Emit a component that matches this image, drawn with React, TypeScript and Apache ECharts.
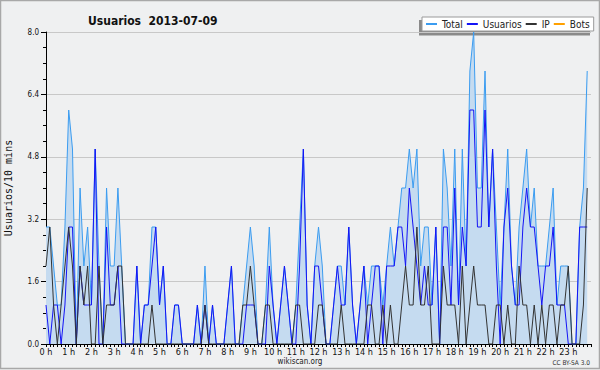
import React, { useEffect, useRef } from "react";
import * as echarts from "echarts";

const seriesNames = ["Total", "Usuarios", "IP", "Bots"];

const total = [
  3, 3, 2, 1, 1, 3, 6, 5, 0, 4, 2, 3, 1, 5, 2, 0, 4, 2, 2, 4,
  2, 0, 0, 0, 2, 0, 1, 1, 3, 3, 1, 2, 0, 0, 1, 1, 0, 0, 0, 0,
  1, 0, 2, 0, 1, 0, 0, 0, 1, 2, 0, 0, 1, 2, 3, 2, 0, 0, 1, 3,
  1, 0, 1, 2, 1, 0, 1, 3, 5, 1, 0, 2, 3, 2, 0, 0, 1, 2, 2, 1,
  3, 1, 0, 1, 2, 1, 2, 2, 2, 1, 2, 3, 2, 3, 4, 4, 5, 4, 5, 2,
  3, 3, 1, 3, 0, 5, 4, 2, 5, 1, 5, 2, 7, 8, 4, 4, 7, 3, 5, 3,
  1, 3, 5, 2, 1, 3, 4, 5, 3, 4, 2, 2, 2, 3, 4, 1, 2, 2, 2, 0,
  0, 3, 4, 7,
];

const usuarios = [
  1, 0, 1, 1, 0, 1, 3, 3, 0, 2, 1, 1, 1, 5, 0, 0, 3, 1, 1, 2,
  0, 0, 0, 0, 2, 0, 1, 1, 2, 3, 1, 2, 0, 0, 1, 1, 0, 0, 0, 0,
  1, 0, 1, 0, 1, 0, 0, 0, 1, 2, 0, 0, 0, 1, 1, 1, 0, 0, 0, 2,
  1, 0, 1, 2, 1, 0, 0, 2, 5, 1, 0, 2, 2, 1, 0, 0, 1, 2, 1, 1,
  3, 1, 0, 1, 2, 0, 1, 2, 2, 0, 2, 2, 2, 3, 3, 2, 4, 3, 2, 1,
  2, 1, 1, 3, 0, 3, 3, 1, 4, 1, 3, 2, 6, 6, 3, 3, 6, 3, 5, 2,
  0, 3, 4, 2, 1, 1, 3, 4, 3, 3, 2, 1, 2, 2, 3, 1, 1, 1, 0, 0,
  0, 3, 3, 3,
];

const ip = [
  2, 3, 1, 0, 1, 2, 3, 2, 0, 2, 1, 2, 0, 0, 2, 0, 1, 1, 1, 2,
  2, 0, 0, 0, 0, 0, 0, 0, 1, 0, 0, 0, 0, 0, 0, 0, 0, 0, 0, 0,
  0, 0, 1, 0, 0, 0, 0, 0, 0, 0, 0, 0, 1, 1, 2, 1, 0, 0, 1, 1,
  0, 0, 0, 0, 0, 0, 1, 1, 0, 0, 0, 0, 1, 1, 0, 0, 0, 0, 1, 0,
  0, 0, 0, 0, 0, 1, 1, 0, 0, 1, 0, 1, 0, 0, 1, 2, 1, 1, 3, 1,
  1, 2, 0, 0, 0, 2, 1, 1, 1, 0, 2, 0, 1, 2, 1, 1, 1, 0, 0, 1,
  1, 0, 1, 0, 0, 2, 1, 1, 0, 1, 0, 1, 0, 1, 1, 0, 1, 1, 2, 0,
  0, 0, 1, 4,
];

const bots: number[] = [];

const hourLabels = [
  "0 h", "1 h", "2 h", "3 h", "4 h", "5 h", "6 h", "7 h", "8 h", "9 h", "10 h", "11 h",
  "12 h", "13 h", "14 h", "15 h", "16 h", "17 h", "18 h", "19 h", "20 h", "21 h", "22 h", "23 h",
];

const colors = ["#3b9cf0", "#1414f5", "#333333", "#ffa000"];
const F = "'DejaVu Sans Condensed', 'DejaVu Sans', sans-serif";

export default function App() {
  const ref = useRef<HTMLDivElement>(null);
  useEffect(() => {
    document.body.style.margin = "0";
    const chart = echarts.init(ref.current!, null, { renderer: "svg" });
    const pts = (arr: number[]) => arr.map((v, i) => [i, v]);
    chart.setOption({
      animation: false,
      backgroundColor: "#eff0f1",
      color: colors,
      textStyle: { fontFamily: F },
      title: {
        text: "Usuarios  2013-07-09",
        left: 83,
        top: 10,
        textStyle: { fontSize: 12, fontWeight: "bold", color: "#111", fontFamily: F },
      },
      legend: {
        left: 422,
        top: 17,
        padding: [2, 4, 2, 4],
        itemGap: 4,
        itemWidth: 11,
        itemHeight: 2,
        icon: "rect",
        backgroundColor: "#ffffff",
        borderColor: "#9a9a9a",
        borderWidth: 1,
        borderRadius: 0,
        textStyle: { fontSize: 10, color: "#222", fontFamily: F },
        data: seriesNames,
      },
      grid: { left: 46, right: 9, top: 32, bottom: 26, containLabel: false, outerBoundsMode: "none" },
      xAxis: {
        type: "value",
        min: 0,
        max: 144,
        interval: 6,
        axisLine: { show: true, lineStyle: { color: "#000", width: 1 } },
        axisTick: { show: true, length: 3, lineStyle: { color: "#000" } },
        minorTick: { show: true, splitNumber: 6, length: 3, lineStyle: { color: "#000" } },
        splitLine: { show: false },
        axisLabel: {
          formatter: (v: number) => (v < 144 ? hourLabels[Math.round(v / 6)] : ""),
          fontSize: 9,
          margin: 3,
          color: "#111",
          fontFamily: F,
        },
      },
      yAxis: {
        type: "value",
        min: 0,
        max: 8,
        interval: 1.6,
        name: "Usuarios/10 mins",
        nameLocation: "middle",
        nameGap: 33,
        nameTextStyle: { fontFamily: "'DejaVu Sans Mono', monospace", fontSize: 10, color: "#111" },
        axisLine: { show: true, lineStyle: { color: "#000", width: 1 } },
        axisTick: { show: true, length: 5, lineStyle: { color: "#000" } },
        minorTick: { show: true, splitNumber: 4, length: 3, lineStyle: { color: "#000" } },
        splitLine: { show: true, lineStyle: { color: "#c8c8c8", width: 1 } },
        axisLabel: {
          formatter: (v: number) => v.toFixed(1),
          fontSize: 8,
          margin: 7,
          color: "#111",
          fontFamily: F,
        },
      },
      graphic: [
        {
          type: "rect",
          shape: { x: 0.5, y: 0.5, width: 599, height: 368 },
          style: { fill: "none", stroke: "#a8a8a8", lineWidth: 1.5 },
          silent: true,
        },
        {
          type: "rect",
          shape: { x: 419, y: 20, width: 171, height: 15.5 },
          style: { fill: "#8a8a8a" },
          silent: true,
          z: -1,
        },
        {
          type: "text",
          x: 300,
          y: 361,
          style: { text: "wikiscan.org", fill: "#222", font: `8px ${F}`, textAlign: "center", textVerticalAlign: "middle" },
          silent: true,
        },
        {
          type: "text",
          x: 590,
          y: 363,
          style: { text: "CC BY-SA 3.0", fill: "#333", font: `6.5px ${F}`, textAlign: "right", textVerticalAlign: "middle" },
          silent: true,
        },
      ],
      series: [
        {
          name: "Total",
          type: "line",
          data: pts(total),
          showSymbol: false,
          lineStyle: { width: 1, color: colors[0] },
          areaStyle: { color: "#c5dbf0", opacity: 1 },
          z: 2,
        },
        {
          name: "Usuarios",
          type: "line",
          data: pts(usuarios),
          showSymbol: false,
          lineStyle: { width: 1, color: colors[1] },
          z: 3,
        },
        {
          name: "IP",
          type: "line",
          data: pts(ip),
          showSymbol: false,
          lineStyle: { width: 1, color: colors[2] },
          z: 4,
        },
        {
          name: "Bots",
          type: "line",
          data: pts(bots),
          showSymbol: false,
          lineStyle: { width: 1, color: colors[3] },
          z: 5,
        },
      ],
    });
    return () => chart.dispose();
  }, []);
  return <div ref={ref} style={{ position: "absolute", left: 0, top: 0, width: 600, height: 370 }} />;
}
